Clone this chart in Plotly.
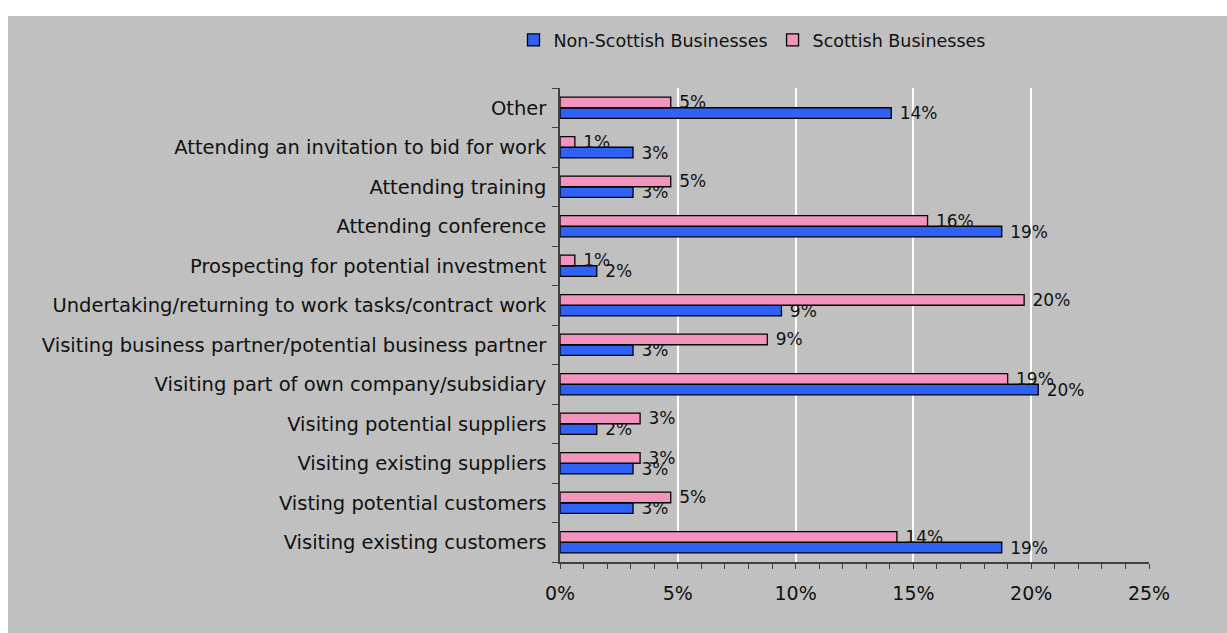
import plotly.graph_objects as go

# Survey categories, listed bottom-to-top as they appear on the chart
categories = [
    "Visiting existing customers",
    "Visting potential customers",
    "Visiting existing suppliers",
    "Visiting potential suppliers",
    "Visiting part of own company/subsidiary",
    "Visiting business partner/potential business partner",
    "Undertaking/returning to work tasks/contract work",
    "Prospecting for potential investment",
    "Attending conference",
    "Attending training",
    "Attending an invitation to bid for work",
    "Other",
]

# Share of respondents (fraction) per category
non_scottish = [0.1875, 0.031, 0.031, 0.0156, 0.203, 0.031, 0.094, 0.0156, 0.1875, 0.031, 0.031, 0.1406]
scottish = [0.143, 0.047, 0.034, 0.034, 0.190, 0.088, 0.197, 0.0063, 0.156, 0.047, 0.0063, 0.047]

x_ticks = [0, 0.05, 0.10, 0.15, 0.20, 0.25]
x_tick_labels = ["0%", "5%", "10%", "15%", "20%", "25%"]

W, H = 1227, 633
PLOT_L, PLOT_R, PLOT_T, PLOT_B = 560, 1149, 88, 562
FONT = "DejaVu Sans"
TXT = "#111111"

fig = go.Figure()
fig.add_trace(go.Bar(
    y=categories, x=non_scottish, orientation="h", name="Non-Scottish Businesses",
    marker=dict(color="#2F62F4", line=dict(color="#000000", width=1.3)),
    texttemplate=" %{x:.0%}", textposition="outside", cliponaxis=False,
    constraintext="none",
    textfont=dict(family=FONT, size=17, color=TXT),
))
fig.add_trace(go.Bar(
    y=categories, x=scottish, orientation="h", name="Scottish Businesses",
    marker=dict(color="#F394BE", line=dict(color="#000000", width=1.3)),
    texttemplate=" %{x:.0%}", textposition="outside", cliponaxis=False,
    constraintext="none",
    textfont=dict(family=FONT, size=17, color=TXT),
))

pw = PLOT_R - PLOT_L
ph = PLOT_B - PLOT_T


def px_x(p):
    return (p - PLOT_L) / pw


def px_y(p):
    return (PLOT_B - p) / ph


# white border strips round the grey chart panel
shapes = [
    dict(type="rect", xref="paper", yref="paper", layer="below",
         x0=px_x(0), x1=px_x(W), y0=px_y(16), y1=px_y(0),
         fillcolor="white", line=dict(width=0)),
    dict(type="rect", xref="paper", yref="paper", layer="below",
         x0=px_x(0), x1=px_x(8), y0=px_y(H), y1=px_y(0),
         fillcolor="white", line=dict(width=0)),
]

fig.update_layout(
    width=W, height=H,
    margin=dict(l=PLOT_L, r=W - PLOT_R, t=PLOT_T, b=H - PLOT_B, autoexpand=False),
    paper_bgcolor="#C0C0C0", plot_bgcolor="#C0C0C0",
    barmode="group", bargap=0.46, bargroupgap=0,
    font=dict(family=FONT, size=19, color=TXT),
    shapes=shapes,
    showlegend=True,
    legend=dict(orientation="h", x=px_x(752), xanchor="center", y=px_y(40), yanchor="middle",
                font=dict(family=FONT, size=17.5, color=TXT), bgcolor="rgba(0,0,0,0)",
                itemwidth=30, traceorder="normal"),
    xaxis=dict(
        range=[0, 0.25], tickvals=x_ticks, ticktext=x_tick_labels,
        showgrid=True, gridcolor="#FFFFFF", gridwidth=1.5,
        showline=True, linecolor="#404040", linewidth=1.5,
        ticks="outside", ticklen=5, tickcolor="#404040", tickwidth=1.2,
        minor=dict(dtick=0.01, ticks="outside", ticklen=5, tickcolor="#404040", tickwidth=1.2, showgrid=False),
        tickfont=dict(family=FONT, size=19, color=TXT),
        ticklabelstandoff=8,
        zeroline=False, fixedrange=True,
    ),
    yaxis=dict(
        showline=True, linecolor="#404040", linewidth=1.5,
        ticks="outside", ticklen=6, tickcolor="#404040", tickwidth=1.2,
        tickson="boundaries", showgrid=False,
        tickfont=dict(family=FONT, size=19.5, color=TXT),
        ticklabelstandoff=8,
        fixedrange=True,
    ),
)

fig.write_html("out.html")
